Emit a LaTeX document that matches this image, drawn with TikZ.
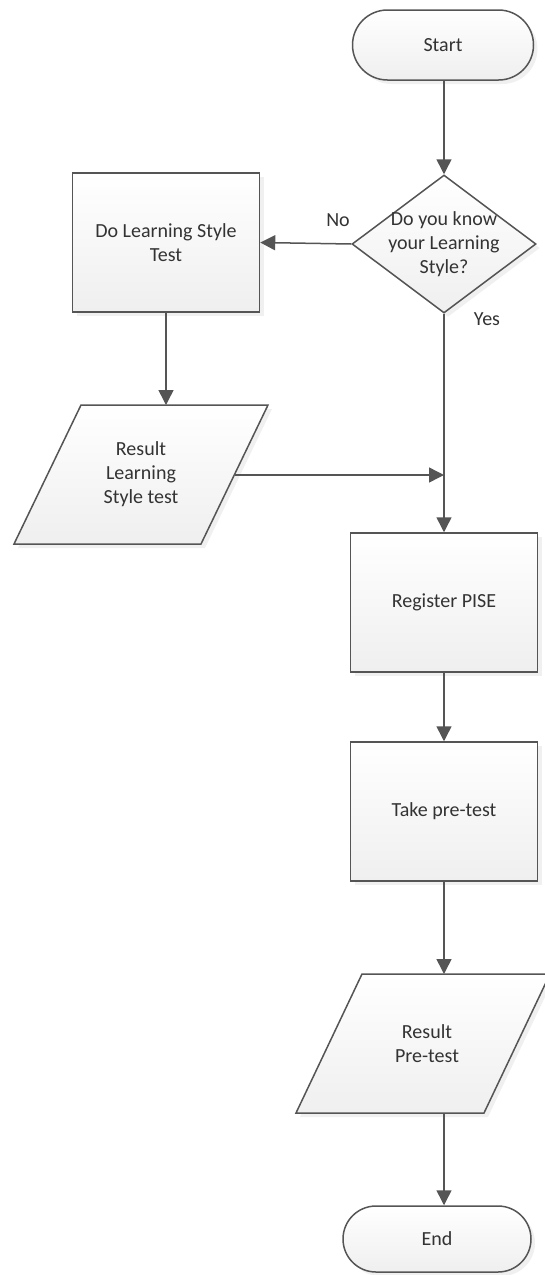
\documentclass[tikz,border=0pt]{standalone}
\usepackage{fontspec}
\setmainfont{Carlito}
\usetikzlibrary{shapes.geometric,arrows.meta,shadows}
\definecolor{linec}{HTML}{555555}
\definecolor{txtc}{HTML}{333333}
\definecolor{fillb}{HTML}{EFEFEF}
\begin{document}
\begin{tikzpicture}[x=1pt,y=-1pt,
  font=\fontsize{20}{24}\selectfont, text=txtc,
  shp/.style={draw=linec, line width=1.5pt, top color=white, bottom color=fillb,
    drop shadow={opacity=0.12, shadow xshift=4pt, shadow yshift=-4pt}},
  procbox/.style={shp, rectangle, minimum width=187pt, minimum height=139pt, inner sep=0pt, align=center},
  termbox/.style={shp, rectangle, inner sep=0pt, align=center},
  txt/.style={align=center, inner sep=0pt},
  flow/.style={draw=linec, line width=1.5pt, -{Triangle[length=15pt,width=15pt]}},
  lbl/.style={inner sep=0pt}
]
\useasboundingbox (0,0) rectangle (544,1275);
% nodes
\node[termbox, minimum width=181pt, minimum height=70pt, rounded corners=35pt] (start) at (443,45) {Start};
\node[diamond, shp, minimum width=184pt, minimum height=138pt, inner sep=0pt] (dec) at (444,244) {};
\node[txt] (dectxt) at (444,244) {Do you know\\your Learning\\Style?};
\node[procbox] (dls) at (166,242.5) {Do Learning Style\\Test};
\path[shp] (81,405) -- (268,405) -- (201,544) -- (14,544) -- cycle;
\node[txt] (lsr) at (141,474.5) {Result\\Learning\\Style test};
\coordinate (lsout) at (234.5,475);
\coordinate (lsin) at (166,405);
\coordinate (join) at (444,475);
\node[procbox] (reg) at (444,602.5) {Register PISE};
\node[procbox] (take) at (444,811.5) {Take pre-test};
\path[shp] (362,974) -- (550,974) -- (484,1113) -- (296,1113) -- cycle;
\node[txt] (pre) at (427,1044) {Result\\Pre-test};
\coordinate (prein) at (444,974);
\coordinate (preout) at (444,1113);
\node[termbox, minimum width=188pt, minimum height=66pt, rounded corners=33pt] (end) at (437,1239) {End};
\node[lbl] (no) at (338,220) {No};
\node[lbl] (yes) at (487,319) {Yes};
% connectors
\draw[flow] (dec.north |- start.south) -- (dec.north);
\draw[flow] (dec.west) -- (dls.east);
\draw[flow] (dec.south) -- (reg.north);
\draw[flow] (dls.south) -- (lsin);
\draw[flow] (lsout) -- (join);
\draw[flow] (reg.south) -- (take.north);
\draw[flow] (take.south) -- (prein);
\draw[flow] (preout) -- (preout |- end.north);
\end{tikzpicture}
\end{document}
